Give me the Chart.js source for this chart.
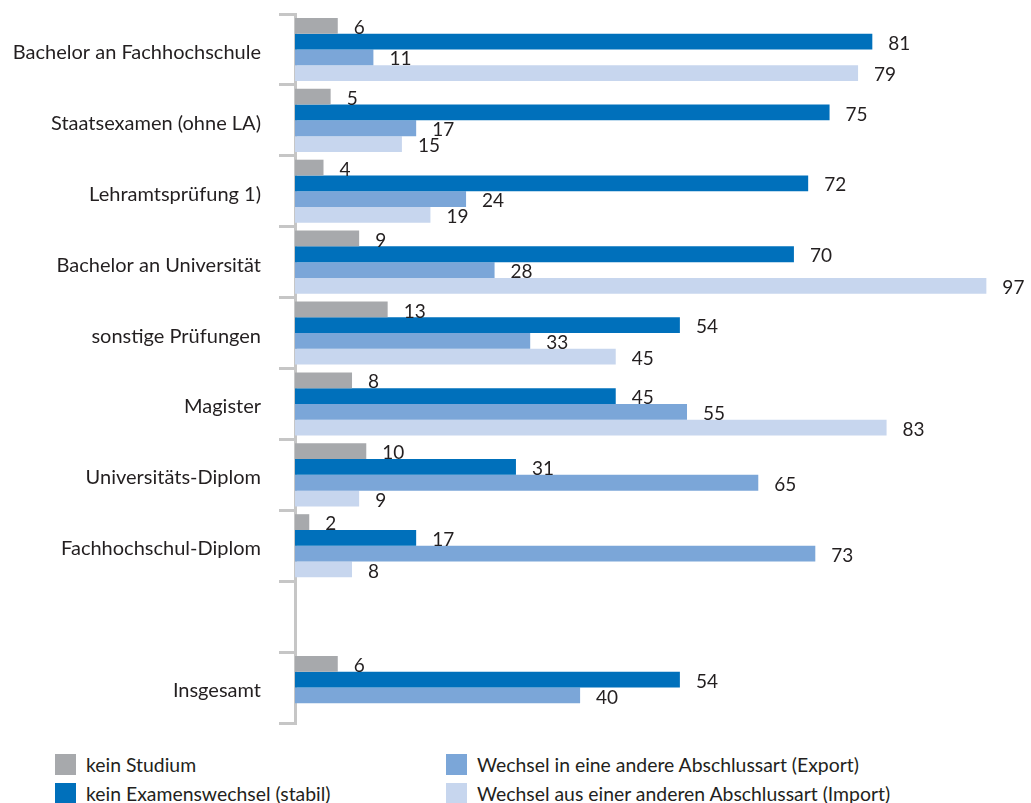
<!DOCTYPE html>
<html>
<head>
<meta charset="utf-8">
<script src="https://cdn.jsdelivr.net/npm/chart.js@4"></script>
<style>
  body { margin: 0; background: #fff; font-family: Lato, sans-serif; color: #231f20; }
  #wrap { position: relative; width: 1031px; height: 803px; }
  #chart { position: absolute; left: 0; top: 0; }
  .leg { position: absolute; font-size: 19.4px; line-height: 21px; white-space: nowrap; }
  .leg span { display: inline-block; width: 21px; height: 21px; vertical-align: top; margin-right: 10px; }
</style>
</head>
<body>
<div id="wrap">
  <canvas id="chart" width="1031" height="740"></canvas>
  <div id="legend"></div>
</div>
<script>
const categories = ['Bachelor an Fachhochschule', 'Staatsexamen (ohne LA)', 'Lehramtsprüfung 1)',
  'Bachelor an Universität', 'sonstige Prüfungen', 'Magister', 'Universitäts-Diplom',
  'Fachhochschul-Diplom', '', 'Insgesamt'];
const seriesNames = ['kein Studium', 'kein Examenswechsel (stabil)',
  'Wechsel in eine andere Abschlussart (Export)', 'Wechsel aus einer anderen Abschlussart (Import)'];
const keinStudium = [6, 5, 4, 9, 13, 8, 10, 2, null, 6];
const stabil = [81, 75, 72, 70, 54, 45, 31, 17, null, 54];
const exportWechsel = [11, 17, 24, 28, 33, 55, 65, 73, null, 40];
const importWechsel = [79, 15, 19, 97, 45, 83, 9, 8, null, null];
const colors = ['#a7a9ac', '#0070bb', '#7ba6d8', '#c7d6ee'];

const allSeries = [keinStudium, stabil, exportWechsel, importWechsel];

// value labels right of each bar
const valueLabels = {
  id: 'valueLabels',
  afterDatasetsDraw(chart) {
    const ctx = chart.ctx;
    ctx.save();
    ctx.font = '19px Lato';
    ctx.fillStyle = '#231f20';
    ctx.textBaseline = 'middle';
    chart.data.datasets.forEach((ds, i) => {
      chart.getDatasetMeta(i).data.forEach((bar, j) => {
        if (ds.data[j] == null) return;
        ctx.fillText(ds.data[j], bar.x + 16, bar.y + 2);
      });
    });
    ctx.restore();
  }
};

new Chart(document.getElementById('chart'), {
  type: 'bar',
  data: {
    labels: categories,
    datasets: allSeries.map((d, i) => ({
      label: seriesNames[i],
      data: d,
      backgroundColor: colors[i],
      barPercentage: 1,
      categoryPercentage: 0.89
    }))
  },
  options: {
    indexAxis: 'y',
    responsive: false,
    animation: false,
    layout: { padding: { top: 14, bottom: 17, right: 9 } },
    plugins: { legend: { display: false }, tooltip: { enabled: false } },
    scales: {
      x: { display: false, min: 0, max: 102 },
      y: {
        afterFit: s => { s.width = 295; s.paddingTop = 0; s.paddingBottom = 0; },
        grid: { drawOnChartArea: false, color: '#c6c6c6', lineWidth: 3, tickLength: 16 },
        border: { display: true, color: '#c6c6c6', width: 3 },
        ticks: { color: '#231f20', font: { family: 'Lato', size: 20 }, padding: 18, labelOffset: 3 }
      }
    }
  },
  plugins: [valueLabels]
});

// legend in two columns
const legendPos = [[55, 754], [55, 783], [446, 754], [446, 783]];
const legendOrder = [0, 1, 2, 3];
legendOrder.forEach((k, i) => {
  const el = document.createElement('div');
  el.className = 'leg';
  el.style.left = legendPos[i][0] + 'px';
  el.style.top = legendPos[i][1] + 'px';
  el.innerHTML = '<span style="background:' + colors[k] + '"></span>' + seriesNames[k];
  document.getElementById('legend').appendChild(el);
});
</script>
</body>
</html>
